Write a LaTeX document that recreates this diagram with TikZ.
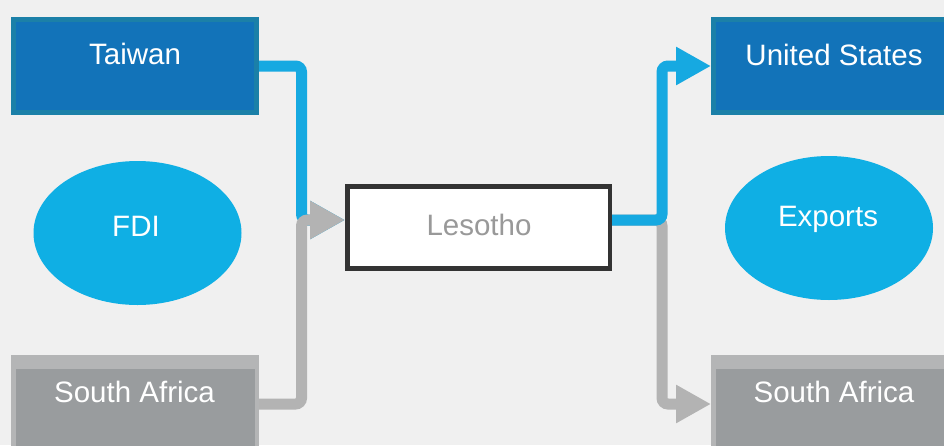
\documentclass[tikz,border=0pt]{standalone}
\usepackage{fontspec}
\setmainfont{Liberation Sans}
\usetikzlibrary{arrows.meta,shapes.geometric}
\definecolor{bgc}{HTML}{F0F0F0}
\definecolor{boxblue}{HTML}{1273B9}
\definecolor{boxblueborder}{HTML}{1B80A8}
\definecolor{conblue}{HTML}{16A9E1}
\definecolor{ellblue}{HTML}{0FAFE4}
\definecolor{congray}{HTML}{B3B3B3}
\definecolor{grayouter}{HTML}{B4B5B6}
\definecolor{grayinner}{HTML}{999C9E}
\definecolor{lesborder}{HTML}{333333}
\definecolor{lestext}{HTML}{999999}
\tikzset{
  bluebox/.style={rectangle, fill=boxblue, draw=boxblueborder, line width=5pt,
    minimum width=243pt, minimum height=93pt, inner sep=0pt},
  graybox/.style={rectangle, fill=grayouter, draw=none,
    minimum width=248pt, minimum height=98pt, inner sep=0pt, outer sep=0pt},
  lesbox/.style={rectangle, fill=white, draw=lesborder, line width=4.5pt,
    minimum width=262.5pt, minimum height=82pt, inner sep=0pt},
  ell/.style={ellipse, fill=ellblue, draw=none, minimum width=208pt,
    minimum height=144pt, inner sep=0pt},
  lbl/.style={anchor=base, inner sep=0pt, text=white,
    font=\fontsize{29.5}{31}\selectfont},
  conn/.style={line width=11pt, rounded corners=6pt,
    -{Triangle[length=35pt,width=36pt]}},
}
\begin{document}
\begin{tikzpicture}[x=1pt,y=-1pt]
\fill[bgc] (0,0) rectangle (944,445);
\useasboundingbox (0,0) rectangle (944,445);
\clip (0,0) rectangle (944,445);

% boxes
\node[bluebox] (taiwan) at (135,66) {};
\node[bluebox] (us) at (835,66) {};
\node[graybox] (saL) at (135,404) {};
\node[graybox] (saR) at (835,404) {};
\fill[grayinner] ([xshift=5pt,yshift=-14pt]saL.north west) rectangle ([xshift=-4pt,yshift=4pt]saL.south east);
\fill[grayinner] ([xshift=5pt,yshift=-14pt]saR.north west) rectangle ([xshift=-4pt,yshift=4pt]saR.south east);
\node[lesbox] (lesotho) at (478.5,227.5) {};

% ellipses
\node[ell] (fdi) at (137.5,233) {};
\node[ell] (exports) at (829,228) {};

% labels
\node[lbl] (tTaiwan) at (135,64) {Taiwan};
\node[lbl] (tUS) at (834,65) {United States};
\node[lbl] (tSAL) at (134.5,402.7) {South Africa};
\node[lbl] (tSAR) at (834,402.7) {South Africa};
\node[lbl, text=lestext] (tLes) at (479,235.7) {Lesotho};
\node[lbl] (tFDI) at (136,236) {FDI};
\node[lbl] (tExp) at (828,226.7) {Exports};

% connectors
\coordinate (jL) at (301.5,220);
\coordinate (jR) at (662,220);
\draw[conn, conblue] (taiwan.east) -| (jL) -- (jL -| lesotho.west);
\draw[conn, congray] (saL.east) -| (jL) -- (jL -| lesotho.west);
\draw[conn, congray] (jR -| lesotho.east) -- (jR) |- (saR.west);
\draw[conn, conblue] (jR -| lesotho.east) -- (jR) |- (us.west);
\end{tikzpicture}
\end{document}
